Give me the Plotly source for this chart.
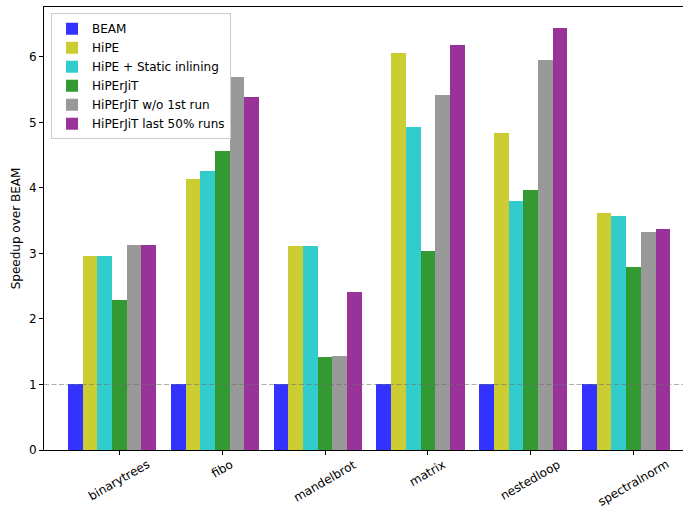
import plotly.graph_objects as go

benchmarks = ["binarytrees", "fibo", "mandelbrot", "matrix", "nestedloop", "spectralnorm"]
series_names = ["BEAM", "HiPE", "HiPE + Static inlining", "HiPErJiT",
                "HiPErJiT w/o 1st run", "HiPErJiT last 50% runs"]
beam = [1.0, 1.0, 1.0, 1.0, 1.0, 1.0]
hipe = [2.96, 4.14, 3.11, 6.06, 4.84, 3.62]
hipe_inline = [2.96, 4.26, 3.11, 4.93, 3.80, 3.57]
hiperjit = [2.29, 4.57, 1.42, 3.04, 3.97, 2.79]
hiperjit_wo1st = [3.13, 5.69, 1.44, 5.42, 5.95, 3.33]
hiperjit_last50 = [3.13, 5.39, 2.41, 6.18, 6.44, 3.37]
series_values = [beam, hipe, hipe_inline, hiperjit, hiperjit_wo1st, hiperjit_last50]
colors = ["#3333ff", "#cccc33", "#33cccc", "#339933", "#999999", "#993399"]

w = 1 / 7
tick_pos = [g + 3 * w for g in range(len(benchmarks))]
fig = go.Figure()
for i, (name, vals, col) in enumerate(zip(series_names, series_values, colors)):
    fig.add_trace(go.Bar(
        x=[g + i * w for g in range(len(benchmarks))],
        y=vals, width=w, name=name,
        marker=dict(color=col, line=dict(width=0)),
    ))

fig.add_shape(type="line", xref="paper", yref="y", x0=0, x1=1, y0=1, y1=1,
              line=dict(color="rgba(110,110,110,0.55)", width=1.2, dash="5px,2.5px"),
              layer="above")

# rotated, centre-aligned category labels (matplotlib style)
for xp, lab in zip(tick_pos, benchmarks):
    fig.add_annotation(x=xp, y=0, xref="x", yref="paper", text=lab, showarrow=False,
                       textangle=-30, xanchor="center", yanchor="top", yshift=-6,
                       font=dict(family="DejaVu Sans", size=12, color="black"),
                       borderpad=0)

ymax = max(max(v) for v in series_values) * 1.05
fig.update_layout(
    width=683, height=508, autosize=False,
    margin=dict(l=44, r=0, t=7, b=58, autoexpand=False),
    barmode="overlay", bargap=0,
    plot_bgcolor="white", paper_bgcolor="white",
    font=dict(family="DejaVu Sans", size=12, color="black"),
    showlegend=True,
    legend=dict(x=0.011, y=0.986, xanchor="left", yanchor="top",
                bgcolor="rgba(255,255,255,0.8)", bordercolor="#cccccc", borderwidth=1,
                font=dict(size=12), tracegroupgap=0, itemwidth=30),
    xaxis=dict(range=[-0.3054, 5.910], tickvals=tick_pos, showticklabels=False,
               showgrid=False, zeroline=False,
               showline=True, linecolor="black", linewidth=1, mirror=True,
               ticks="outside", ticklen=4, tickcolor="black", automargin=False),
    yaxis=dict(range=[0, ymax], tickvals=[0, 1, 2, 3, 4, 5, 6], showgrid=False,
               zeroline=False, showline=True, linecolor="black", linewidth=1,
               ticks="outside", ticklen=4, tickcolor="black", automargin=False,
               title=dict(text="Speedup over BEAM", font=dict(size=12), standoff=5)),
)
fig.write_html("out.html", config={"displayModeBar": False},
               post_script="document.body.style.margin='0';document.body.style.overflow='hidden';")
